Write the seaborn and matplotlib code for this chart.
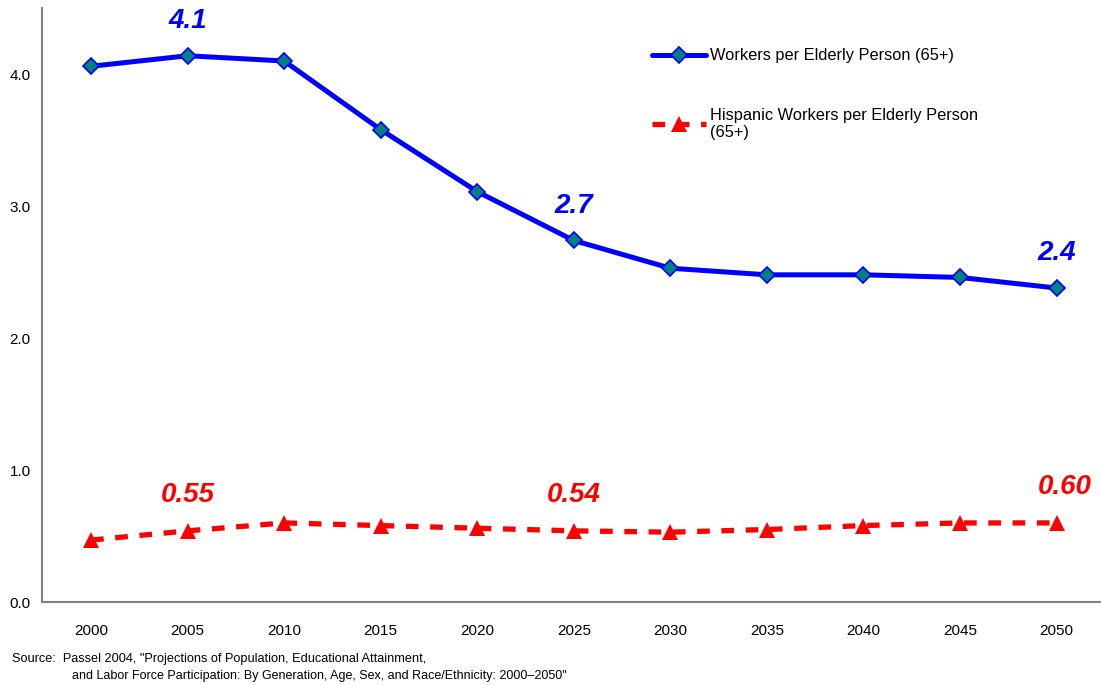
import numpy as np
import pandas as pd
import seaborn as sns
import matplotlib.pyplot as plt

years = [2000, 2005, 2010, 2015, 2020, 2025, 2030, 2035, 2040, 2045, 2050]
workers = [4.06, 4.14, 4.10, 3.58, 3.11, 2.74, 2.53, 2.48, 2.48, 2.46, 2.38]
hispanic = [0.47, 0.54, 0.60, 0.58, 0.56, 0.54, 0.53, 0.55, 0.58, 0.60, 0.60]

blue_labels = {2005: "4.1", 2025: "2.7", 2050: "2.4"}
red_labels = {2005: "0.55", 2025: "0.54", 2050: "0.60"}

df = pd.DataFrame({"year": years, "workers": workers, "hispanic": hispanic})

sns.set_style("white")
plt.rcParams["font.family"] = ["Liberation Sans", "DejaVu Sans"]
plt.rcParams["text.color"] = "black"

fig = plt.figure(figsize=(11.01, 6.85), dpi=100)
ax = fig.add_axes([0.038, 0.121, 0.962, 0.867])

sns.lineplot(data=df, x="year", y="workers", ax=ax, color="#0000ff", lw=3.6,
             marker="D", markersize=8, markerfacecolor="#008080",
             markeredgecolor="#0000ff", markeredgewidth=1.2,
             label="Workers per Elderly Person (65+)")
sns.lineplot(data=df, x="year", y="hispanic", ax=ax, color="#ff0000", lw=3.8,
             marker="^", markersize=11, markeredgewidth=0,
             label="Hispanic Workers per Elderly Person\n(65+)")
red = ax.lines[1]
red.set_linestyle((0, (2.4, 2.2)))
red.set_dash_capstyle("butt")

for y, t in blue_labels.items():
    v = df.loc[df.year == y, "workers"].iloc[0]
    ax.annotate(t, (y, v), xytext=(0, 25), textcoords="offset points",
                ha="center", va="center", color="#0000ff", fontsize=20,
                fontweight="bold", fontstyle="italic")
for y, t in red_labels.items():
    v = df.loc[df.year == y, "hispanic"].iloc[0]
    dx = 6 if y == 2050 else 0
    ax.annotate(t, (y, v), xytext=(dx, 26), textcoords="offset points",
                ha="center", va="center", color="#ff0000", fontsize=20,
                fontweight="bold", fontstyle="italic")

ax.set_xlim(1997.45, 2052.3)
ax.set_ylim(0, 4.5)
ax.set_xticks(years)
ax.set_yticks([0, 1, 2, 3, 4])
ax.set_yticklabels(["0.0", "1.0", "2.0", "3.0", "4.0"])
ax.tick_params(axis="both", length=0, labelsize=11, colors="black")
ax.tick_params(axis="x", pad=16)
ax.tick_params(axis="y", pad=8)
ax.set_xlabel("")
ax.set_ylabel("")
for s in ["top", "right"]:
    ax.spines[s].set_visible(False)
for s in ["left", "bottom"]:
    ax.spines[s].set_color("#808080")
    ax.spines[s].set_linewidth(1.5)

leg = ax.legend(loc="upper left", bbox_to_anchor=(0.579, 0.951),
                bbox_transform=fig.transFigure, frameon=False, fontsize=11.8,
                handlelength=3.3, handletextpad=0.2, labelspacing=2.7)
for h in leg.get_lines():
    h.set_dash_capstyle("butt")
for t in leg.get_texts():
    t.set_color("black")

fig.text(0.011, 0.038, "Source:  Passel 2004, \"Projections of Population, Educational Attainment,",
         fontsize=9.2, va="center")
fig.text(0.065, 0.013, "and Labor Force Participation: By Generation, Age, Sex, and Race/Ethnicity: 2000\u20132050\"",
         fontsize=9.0, va="center")

fig.savefig("out.png", dpi=100)
